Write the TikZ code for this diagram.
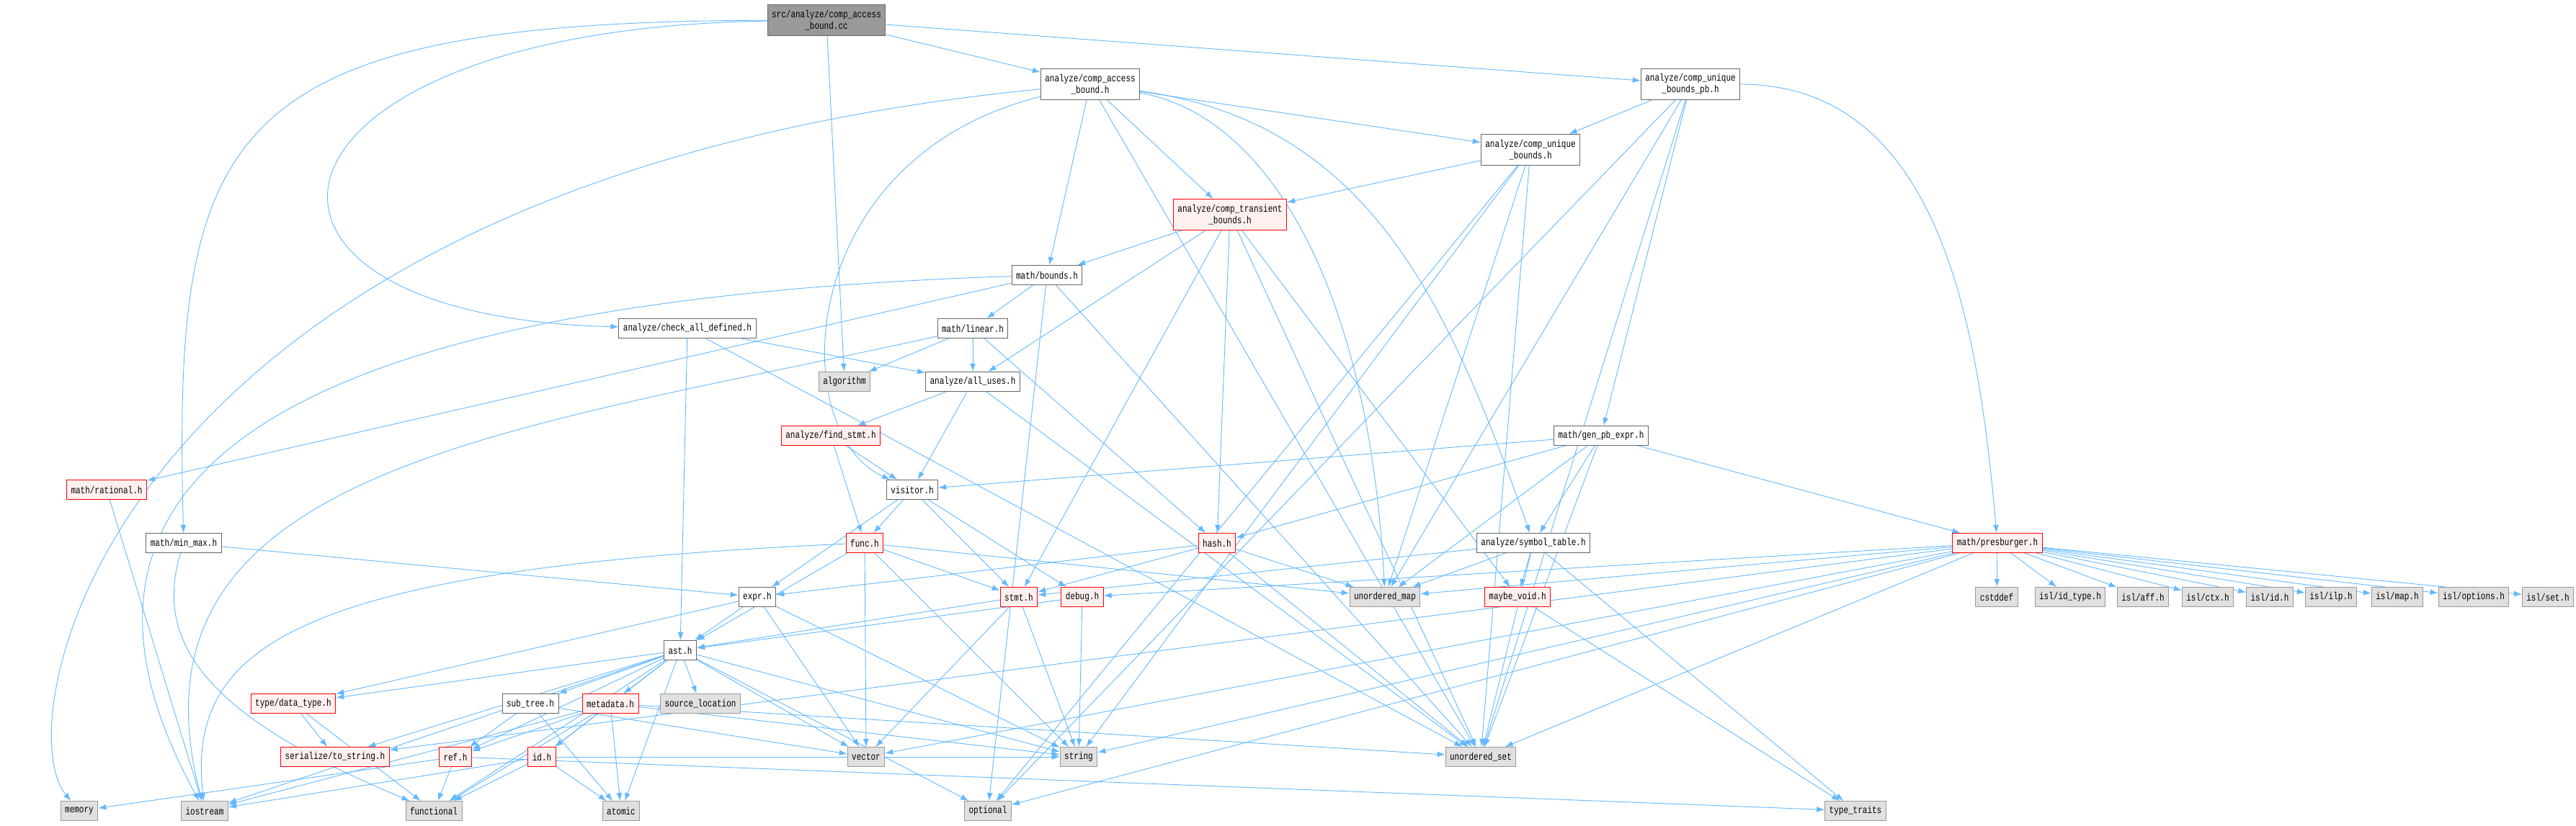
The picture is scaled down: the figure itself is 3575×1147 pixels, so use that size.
\documentclass[tikz,border=0pt]{standalone}
\usepackage{fontspec}
\newfontfamily\doxfont[FakeStretch=0.78]{Liberation Mono}
\usetikzlibrary{arrows.meta}
\definecolor{edgeblue}{HTML}{63B8FF}
\definecolor{boxline}{HTML}{666666}
\definecolor{redfill}{HTML}{FFF0F0}
\definecolor{extfill}{HTML}{E0E0E0}
\definecolor{extline}{HTML}{999999}
\definecolor{rootfill}{HTML}{999999}
\pgfdeclarelayer{background}
\pgfsetlayers{background,main}
\tikzset{
	hfile/.style={draw=boxline, fill=white, line width=1pt, font=\doxfont\fontsize{14.1}{16}\selectfont,
		inner xsep=6pt, inner ysep=2pt, minimum height=27pt, align=center},
	tall/.style={minimum height=43pt},
	redfile/.style={hfile, draw=red, fill=redfill},
	sysfile/.style={hfile, draw=extline, fill=extfill},
	mainfile/.style={hfile, fill=rootfill},
	dep/.style={draw=edgeblue, line width=0.9pt, -{Latex[length=11pt,width=8pt]}},
}
\begin{document}
\begin{tikzpicture}[x=1pt, y=-1pt]
		\useasboundingbox (0,0) rectangle (3575,1147);
		% top rows
		\node [mainfile, tall] (root)  at (1147,28)  {src/analyze/comp\_access\\\_bound.cc};
		\node [hfile, tall]    (cab)   at (1513,117) {analyze/comp\_access\\\_bound.h};
		\node [hfile, tall]    (cubpb) at (2346,117) {analyze/comp\_unique\\\_bounds\_pb.h};
		\node [hfile, tall]    (cub)   at (2124,208) {analyze/comp\_unique\\\_bounds.h};
		\node [redfile, tall]  (ctb)   at (1707,298) {analyze/comp\_transient\\\_bounds.h};
		\node [hfile]   (bounds)     at (1453,382) {math/bounds.h};
		\node [hfile]   (cad)        at (954,456)  {analyze/check\_all\_defined.h};
		\node [hfile]   (linear)     at (1350,456) {math/linear.h};
		\node [sysfile] (algorithm)  at (1172,530) {algorithm};
		\node [hfile]   (alluses)    at (1350,530) {analyze/all\_uses.h};
		\node [redfile] (findstmt)   at (1153,605) {analyze/find\_stmt.h};
		\node [hfile]   (genpb)      at (2222,605) {math/gen\_pb\_expr.h};
		\node [redfile] (rational)   at (148,680)  {math/rational.h};
		\node [hfile]   (visitor)    at (1266,680) {visitor.h};
		\node [hfile]   (minmax)     at (255,754)  {math/min\_max.h};
		\node [redfile] (func)       at (1200,754) {func.h};
		\node [redfile] (hash)       at (1689,754) {hash.h};
		\node [hfile]   (symtab)     at (2128,754) {analyze/symbol\_table.h};
		\node [redfile] (presburger) at (2772,754) {math/presburger.h};
		\node [hfile]   (expr)       at (1051,829) {expr.h};
		\node [redfile] (stmt)       at (1414,829) {stmt.h};
		\node [redfile] (debug)      at (1502,829) {debug.h};
		\node [sysfile] (umap)       at (1922,829) {unordered\_map};
		\node [redfile] (maybevoid)  at (2106,829) {maybe\_void.h};
		\node [sysfile] (cstddef)    at (2771,829) {cstddef};
		\foreach \n/\x/\t in {isltype/2873/{isl/id\_type.h}, islaff/2974/{isl/aff.h}, islctx/3064/{isl/ctx.h},
				islid/3150/{isl/id.h}, islilp/3235/{isl/ilp.h}, islmap/3327/{isl/map.h},
				islopt/3433/{isl/options.h}, islset/3536/{isl/set.h}} {
			\node [sysfile] (\n) at (\x,829) {\t};
		}
		% lower rows
		\node [hfile]   (ast)        at (944,903)   {ast.h};
		\node [redfile] (datatype)   at (407,977)   {type/data\_type.h};
		\node [hfile]   (subtree)    at (736,977)   {sub\_tree.h};
		\node [redfile] (metadata)   at (847,977)   {metadata.h};
		\node [sysfile] (srcloc)     at (972,977)   {source\_location};
		\node [redfile] (tostring)   at (465,1051)  {serialize/to\_string.h};
		\node [redfile] (ref)        at (632,1051)  {ref.h};
		\node [redfile] (id)         at (752,1051)  {id.h};
		\node [sysfile] (vector)     at (1202,1051) {vector};
		\node [sysfile] (string)     at (1497,1051) {string};
		\node [sysfile] (uset)       at (2055,1051) {unordered\_set};
		\node [sysfile] (memory)     at (110,1126)  {memory};
		\node [sysfile] (iostream)   at (284,1126)  {iostream};
		\node [sysfile] (functional) at (602,1126)  {functional};
		\node [sysfile] (atomic)     at (862,1126)  {atomic};
		\node [sysfile] (optional)   at (1371,1126) {optional};
		\node [sysfile] (typetraits) at (2575,1126) {type\_traits};

		\begin{pgfonlayer}{background}
		\foreach \a/\b in {root/cab, root/cubpb, root/algorithm,
				cab/bounds, cab/ctb, cab/cub, cab/uset,
				cubpb/cub, cubpb/genpb, cubpb/umap, cubpb/uset, cubpb/optional,
				cub/ctb, cub/string, cub/umap, cub/uset, cub/optional,
				ctb/bounds, ctb/alluses, ctb/stmt, ctb/hash, ctb/uset, ctb/maybevoid,
				bounds/rational, bounds/linear, bounds/optional, bounds/uset,
				linear/algorithm, linear/alluses, linear/hash,
				cad/alluses, cad/ast, cad/uset,
				alluses/findstmt, alluses/visitor, alluses/uset,
				findstmt/func, findstmt/visitor,
				visitor/expr, visitor/func, visitor/stmt, visitor/debug,
				func/umap, func/stmt, func/ast, func/vector, func/string,
				hash/expr, hash/stmt, hash/umap, hash/uset,
				genpb/visitor, genpb/hash, genpb/symtab, genpb/umap, genpb/uset, genpb/presburger,
				symtab/stmt, symtab/umap, symtab/maybevoid, symtab/typetraits, symtab/uset,
				maybevoid/typetraits, minmax/expr, rational/iostream,
				expr/datatype, expr/ast, expr/vector, expr/string,
				stmt/ast, stmt/vector, stmt/string, debug/ast, debug/string,
				ast/srcloc, ast/datatype, ast/tostring, ast/ref, ast/id, ast/subtree, ast/metadata,
				ast/iostream, ast/functional, ast/atomic, ast/optional, ast/vector, ast/string,
				datatype/functional, datatype/tostring,
				subtree/ref, subtree/atomic, subtree/vector,
				metadata/ref, metadata/id, metadata/functional, metadata/atomic,
				metadata/iostream, metadata/string, metadata/uset,
				ref/memory, ref/functional, ref/typetraits,
				id/iostream, id/functional, id/atomic, id/string,
				presburger/cstddef, presburger/isltype, presburger/islaff, presburger/islctx,
				presburger/islid, presburger/islilp, presburger/islmap, presburger/islopt, presburger/islset,
				presburger/debug, presburger/umap, presburger/tostring, presburger/vector,
				presburger/string, presburger/uset, presburger/optional} {
			\draw [dep] (\a) -- (\b);
		}
		% the long ones round the side
		\draw [dep] (root) .. controls (300,30) and (240,180) .. (minmax);
		\draw [dep] (root) .. controls (330,40) and (260,440) .. (cad);
		\draw [dep] (cab) .. controls (150,250) and (5,1000) .. (memory);
		\draw [dep] (cab) .. controls (1100,220) and (1090,600) .. (visitor);
		\draw [dep] (cab) .. controls (1900,170) and (2010,420) .. (symtab);
		\draw [dep] (cab) .. controls (1760,160) and (1900,400) .. (umap);
		\draw [dep] (bounds) .. controls (300,420) and (50,700) .. (iostream);
		\draw [dep] (linear) .. controls (700,600) and (160,650) .. (iostream);
		\draw [dep] (func) .. controls (400,790) and (260,900) .. (iostream);
		\draw [dep] (minmax) .. controls (210,900) and (300,1000) .. (functional);
		\draw [dep] (cubpb) to [out=0, in=95] (presburger);
		\end{pgfonlayer}
	\end{tikzpicture}
\end{document}
